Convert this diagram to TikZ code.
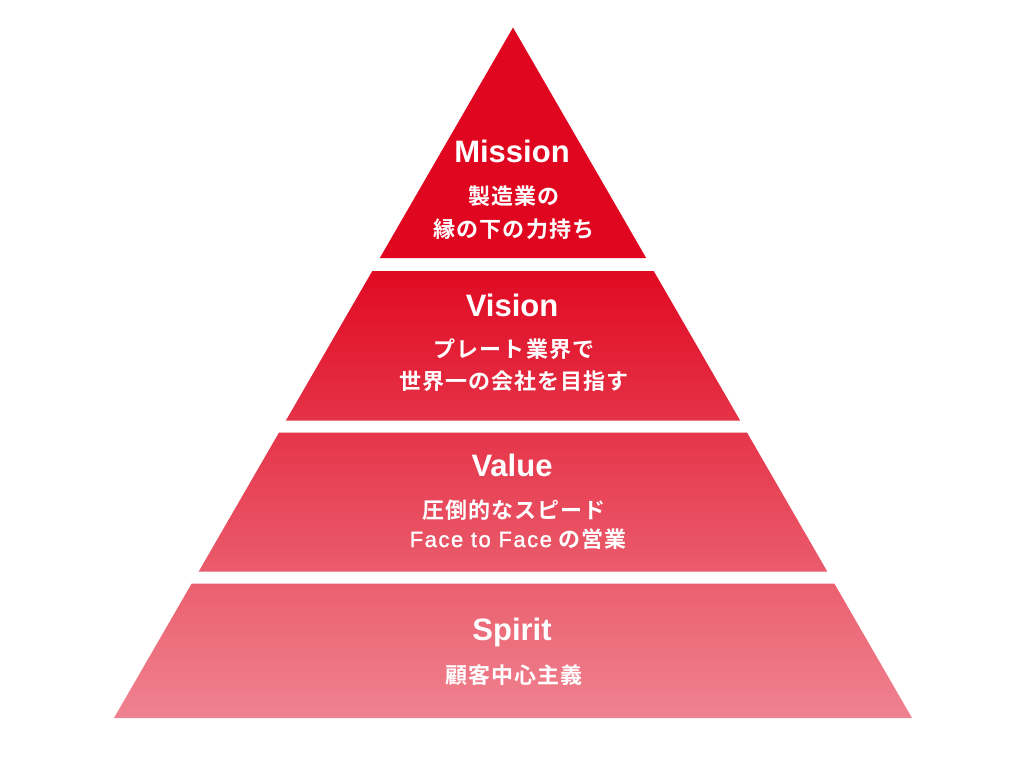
\documentclass[tikz,border=0pt]{standalone}
\usepackage{fontspec}
\setmainfont{Liberation Sans}
\newfontfamily\cjk{Noto Sans CJK JP}[BoldFont={Noto Sans CJK JP Bold},LetterSpace=5]
\newfontfamily\latn{Liberation Sans}[LetterSpace=7,FakeBold=1.2]
\definecolor{cMission}{RGB}{224,6,31}
\definecolor{cVisT}{RGB}{224,10,34}
\definecolor{cVisB}{RGB}{229,50,71}
\definecolor{cValT}{RGB}{230,53,74}
\definecolor{cValB}{RGB}{234,92,108}
\definecolor{cSpiT}{RGB}{235,96,111}
\definecolor{cSpiB}{RGB}{239,130,144}
\begin{document}
\begin{tikzpicture}[x=1pt,y=-1pt,
  title/.style={anchor=base,text=white,font=\fontsize{31}{34}\selectfont\bfseries,inner sep=0pt},
  sub/.style={anchor=base,text=white,font=\fontsize{22}{24}\selectfont\cjk\bfseries,inner sep=0pt}]
\useasboundingbox (0,0) rectangle (1024,756);
\fill[white] (0,0) rectangle (1024,756);
% tiers
\fill[cMission] (513,27.5) -- (646.2,258) -- (379.8,258) -- cycle;
\shade[top color=cVisT,bottom color=cVisB] (372.3,271) -- (653.7,271) -- (740.1,420.5) -- (285.9,420.5) -- cycle;
\shade[top color=cValT,bottom color=cValB] (278.9,432.7) -- (747.1,432.7) -- (827.4,571.7) -- (198.6,571.7) -- cycle;
\shade[top color=cSpiT,bottom color=cSpiB] (191.7,583.5) -- (834.3,583.5) -- (912,718) -- (114,718) -- cycle;
% texts
\node[title] (mt) at (512,162) {Mission};
\node[sub] (m1) at (514,204.5) {製造業の};
\node[sub] (m2) at (514,237.5) {縁の下の力持ち};
\node[title] (vt) at (512,316) {Vision};
\node[sub] (v1) at (514,357.5) {プレート業界で};
\node[sub] (v2) at (514,389.5) {世界一の会社を目指す};
\node[title] (at) at (512,476.5) {Value};
\node[sub] (a1) at (514,518.5) {圧倒的なスピード};
\node[sub] (a2) at (518,547) {{\latn\mdseries\fontsize{22}{24}\selectfont Face to Face} の営業};
\node[title] (st) at (512,640) {Spirit};
\node[sub] (s1) at (514,683.5) {顧客中心主義};
\end{tikzpicture}
\end{document}
